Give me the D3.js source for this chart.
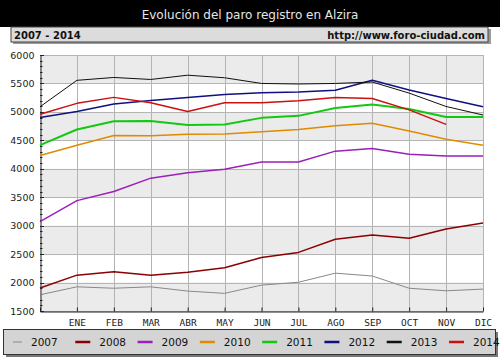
<!DOCTYPE html>
<html><head><meta charset="utf-8">
<script src="https://cdn.jsdelivr.net/npm/d3@7"></script>
<style>body{margin:0;background:#fff}svg{display:block}</style>
</head><body>
<svg id="c" width="500" height="358"></svg>
<script>
const months = ["", "ENE","FEB","MAR","ABR","MAY","JUN","JUL","AGO","SEP","OCT","NOV","DIC"];
const years = ["2007","2008","2009","2010","2011","2012","2013","2014"];
const s2007 = [1785,1925,1900,1925,1850,1810,1955,2005,2165,2115,1900,1855,1885];
const s2008 = [1905,2130,2190,2130,2180,2260,2440,2530,2760,2835,2780,2940,3045];
const s2009 = [3070,3440,3600,3835,3930,3990,4120,4120,4310,4355,4255,4225,4225];
const s2010 = [4235,4415,4585,4580,4605,4610,4650,4690,4755,4800,4665,4520,4415];
const s2011 = [4415,4690,4835,4840,4770,4780,4895,4930,5070,5130,5050,4910,4910];
const s2012 = [4900,5005,5140,5200,5255,5305,5335,5350,5380,5555,5385,5235,5090];
const s2013 = [5090,5555,5605,5570,5645,5600,5500,5490,5500,5525,5330,5095,4945];
const s2014 = [4960,5150,5255,5160,5005,5160,5160,5195,5255,5235,5035,4780,null];
const seriesValues = [s2007,s2008,s2009,s2010,s2011,s2012,s2013,s2014];
const colors = ["#888888","#8b0000","#9b1fb8","#e08a00","#13c813","#101080","#101010","#cc1010"];
const widths = [1,1.5,1.5,1.5,2,1.5,1,1.5];
const yTicks = [1500,2000,2500,3000,3500,4000,4500,5000,5500,6000];
const title = "Evolución del paro registro en Alzira";
const subLeft = "2007 - 2014";
const subRight = "http://www.foro-ciudad.com";

const svg = d3.select("#c");
const x = d3.scalePoint().domain(months.map((m,i)=>i)).range([40,483]);
const y = d3.scaleLinear().domain([1500,6000]).range([311,55]);

// title bar
svg.append("rect").attr("x",0).attr("y",0).attr("width",500).attr("height",27).attr("fill","#000");
const t = svg.append("text").attr("x",250).attr("y",19).attr("text-anchor","middle")
  .attr("fill","#e6e6e6").style("font-family","DejaVu Sans").style("font-size","12px").text(title);
// subtitle box
svg.append("rect").attr("x",13).attr("y",29).attr("width",478).attr("height",15).attr("fill","#9a9a9a");
svg.append("rect").attr("x",11).attr("y",27).attr("width",477).attr("height",15)
  .attr("fill","#dcdcdc").attr("stroke","#444").attr("stroke-width",1);
svg.append("text").attr("x",14).attr("y",38.5).style("font-family","DejaVu Sans").style("font-weight","bold")
  .style("font-size","10px").attr("fill","#111").text(subLeft);
svg.append("text").attr("x",485).attr("y",38.5).attr("text-anchor","end").style("font-family","DejaVu Sans").style("font-weight","bold")
  .style("font-size","10px").attr("fill","#111").text(subRight);

// bands
const g = svg.append("g");
for (let i=0;i<yTicks.length-1;i++){
  const lo=yTicks[i], hi=yTicks[i+1];
  if (i%2===0) g.append("rect").attr("x",40).attr("y",y(hi)).attr("width",443).attr("height",y(lo)-y(hi)).attr("fill","#ebebeb");
}
// grid
g.selectAll("line.h").data(yTicks).enter().append("line")
  .attr("x1",40).attr("x2",483).attr("y1",d=>Math.round(y(d))+0.5).attr("y2",d=>Math.round(y(d))+0.5)
  .attr("stroke","#b4b4b4").attr("stroke-width",1);
g.selectAll("line.v").data(months.map((m,i)=>i).slice(1)).enter().append("line")
  .attr("x1",d=>Math.round(x(d))+0.5).attr("x2",d=>Math.round(x(d))+0.5).attr("y1",55).attr("y2",311)
  .attr("stroke","#b4b4b4").attr("stroke-width",1);

// axes
const ya = svg.append("g").attr("transform","translate(40.5,0)")
  .call(d3.axisLeft(y).tickValues(yTicks).tickSize(0).tickPadding(6).tickFormat(d3.format("d")));
ya.select(".domain").attr("stroke","#222");
ya.selectAll("text").style("font-family","DejaVu Sans").style("font-size","9.5px").attr("fill","#222");
const minor = d3.range(1500,6001,100);
svg.append("g").selectAll("line").data(minor).enter().append("line")
  .attr("x1",40).attr("x2",d=>d%500===0?44:42.5).attr("y1",d=>Math.round(y(d))+0.5).attr("y2",d=>Math.round(y(d))+0.5)
  .attr("stroke","#222").attr("stroke-width",1);
const xa = svg.append("g").attr("transform","translate(0,311.5)")
  .call(d3.axisBottom(x).tickSizeInner(-4).tickSizeOuter(0).tickPadding(8).tickFormat(i=>months[i]));
xa.select(".domain").attr("stroke","#222");
xa.selectAll(".tick line").attr("stroke","#222");
xa.selectAll("text").style("font-family","DejaVu Sans Mono").style("font-size","9.5px").attr("fill","#222");

// lines
const line = d3.line().defined(d=>d!=null).x((d,i)=>x(i)).y(d=>y(d));
svg.append("g").selectAll("path").data(seriesValues).enter().append("path")
  .attr("d",d=>line(d)).attr("fill","none").attr("stroke",(d,i)=>colors[i]).attr("stroke-width",(d,i)=>widths[i])
  .attr("stroke-linejoin","round");

// legend
svg.append("rect").attr("x",6).attr("y",332).attr("width",492).attr("height",25).attr("fill","#777");
svg.append("rect").attr("x",3.5).attr("y",329.5).attr("width",492).attr("height",25)
  .attr("fill","#d4d4d4").attr("stroke","#333").attr("stroke-width",1);
const lx = d3.scaleLinear().domain([0,7]).range([13,449]);
const lg = svg.append("g").selectAll("g").data(years).enter().append("g")
  .attr("transform",(d,i)=>`translate(${lx(i)},342)`);
lg.append("line").attr("x1",0).attr("x2",(d,i)=>i===0?9:15).attr("y1",0).attr("y2",0)
  .attr("stroke",(d,i)=>colors[i]).attr("stroke-width",(d,i)=>i===0?1:2.5);
lg.append("text").attr("x",(d,i)=>i===0?18:24).attr("y",4).text(d=>d)
  .style("font-family","DejaVu Sans").style("font-size","10.5px").attr("fill","#111");
</script>
</body></html>
